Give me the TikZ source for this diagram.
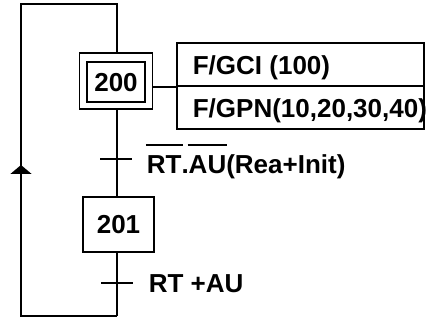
\documentclass[tikz,border=0pt]{standalone}
\usepackage{fontspec}
\setmainfont{Liberation Sans}
\usetikzlibrary{arrows.meta,calc}
\newcommand\myovl[1]{\setbox0\hbox{#1}\rlap{\raise 27pt\hbox{\kern-1pt\vrule width\dimexpr\wd0+2pt\relax height 2.5pt depth 0pt}}\box0}
\begin{document}
\begin{tikzpicture}[x=1pt,y=-1pt, line width=1.7pt,
  every node/.style={font=\fontsize{26}{31}\selectfont\bfseries},
  stepbox/.style={draw, rectangle, inner sep=0pt, text height=18.5pt, text depth=0pt},
  actbox/.style={draw, rectangle, inner sep=0pt, minimum width=247pt, minimum height=43pt},
  txt/.style={anchor=base west, inner sep=0pt}]
\useasboundingbox (0,0) rectangle (426,320);
% steps
\node[stepbox, minimum width=58pt, minimum height=40pt] (s200) at (116,82) {200};
\node[draw, rectangle, inner sep=0pt, minimum width=73pt, minimum height=56pt] (s200o) at (116,81) {};
\node[stepbox, minimum width=71pt, minimum height=55pt] (s201) at (118.5,224.5) {201};
% actions
\node[actbox] (a1) at (300.5,64.5) {};
\node[actbox] (a2) at (300.5,107.5) {};
\node[txt] (a1t) at (192,74.5) {F/GCI (100)};
\node[txt] (a2t) at (192,117.5) {F/GPN(10,20,30,40)};
\draw (s200o.east |- a1.south) -- (a1.south west);
% coordinates
\coordinate (top) at (117,4);
\coordinate (topl) at (21,4);
\coordinate (bot) at (117,316);
\coordinate (botl) at (21,316);
\coordinate (arr) at (21,165);
\coordinate (arrb) at (21,172);
\coordinate (t1) at (117,159);
\coordinate (t2) at (117,283);
% main line
\draw (s200o.south -| top) -- (s201.north -| top);
\draw (s201.south -| top) -- (bot);
\draw[-{Triangle[width=21pt,length=9pt]}] (bot) -- (botl) -- (arr);
\draw (arrb) -- (topl) -- (top) -- (s200o.north -| top);
% transitions
\draw ($(t1)+(-17,0)$) -- ($(t1)+(15,0)$);
\draw ($(t2)+(-16,0)$) -- ($(t2)+(16,0)$);
\node[txt] (l1) at (146,173.5) {\myovl{RT}.\myovl{AU}(Rea+Init)};
\node[txt] (l2) at (148,292.5) {RT +AU};
\end{tikzpicture}
\end{document}
